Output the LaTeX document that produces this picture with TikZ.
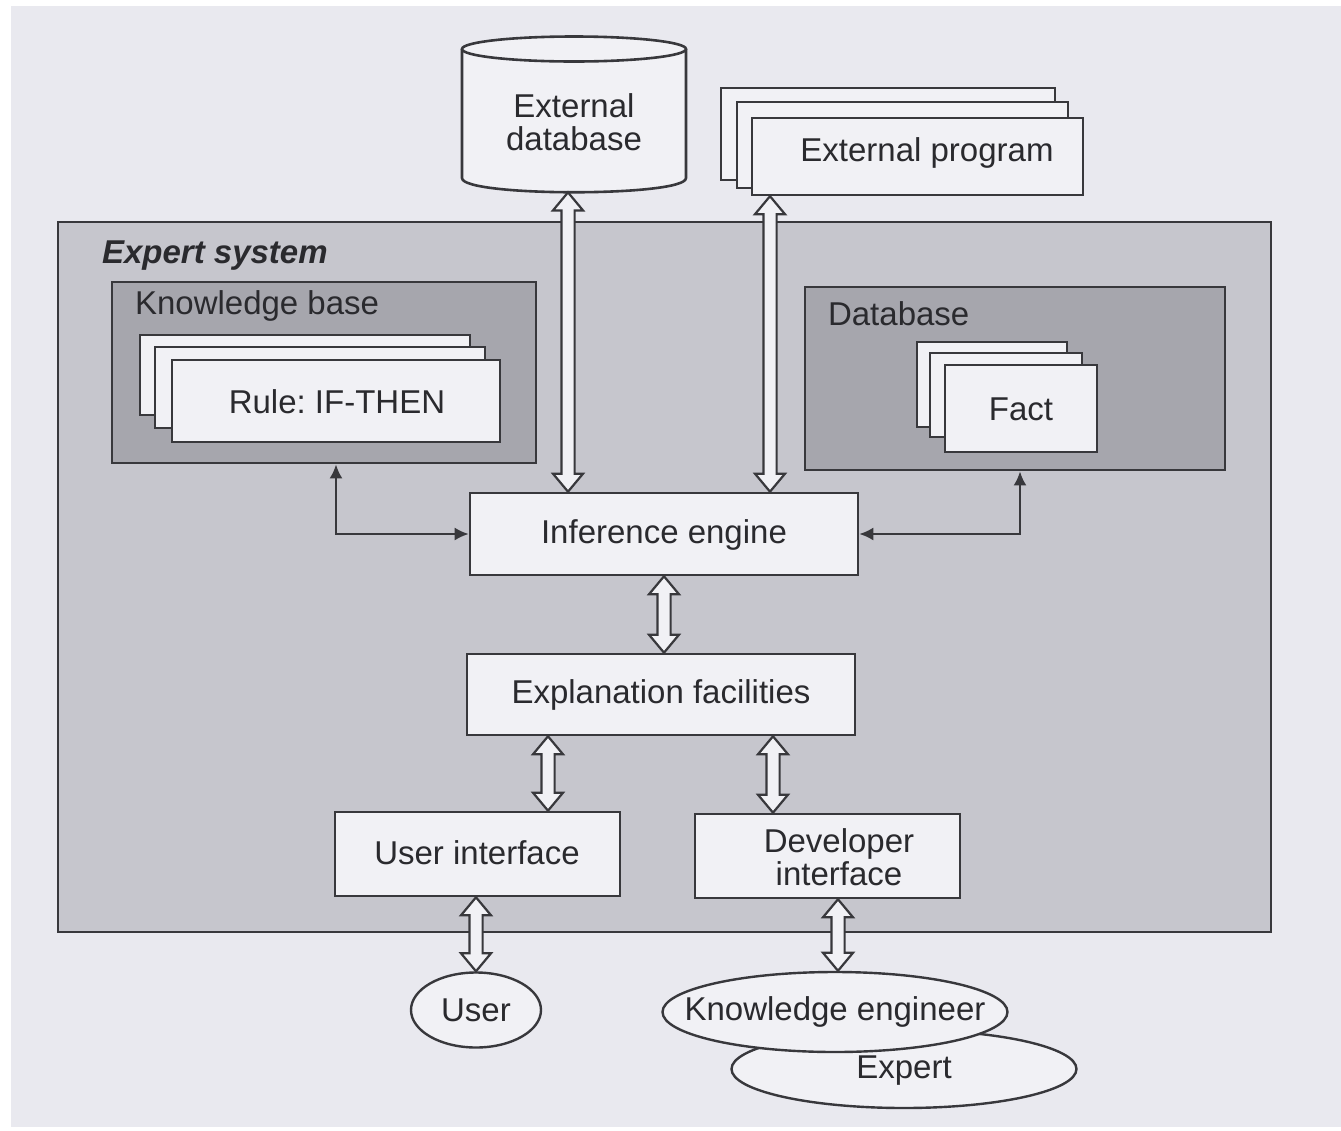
\documentclass[tikz,border=0pt]{standalone}
\usepackage{fontspec}
\setmainfont{Liberation Sans}
\usetikzlibrary{arrows.meta,fit,calc,shapes.geometric}
\definecolor{page}{HTML}{E9E9EF}
\definecolor{shell}{HTML}{C6C6CD}
\definecolor{store}{HTML}{A6A6AD}
\definecolor{paper}{HTML}{F1F1F5}
\definecolor{edge}{HTML}{38383C}
\definecolor{ink}{HTML}{2A2A2E}
\frenchspacing
\begin{document}
\begin{tikzpicture}[x=0.5pt,y=-0.5pt,
  font=\fontsize{16.5}{16.5}\selectfont, text=ink,
  panel/.style={draw=edge, line width=1.4pt, inner sep=0pt},
  sheet/.style={draw=edge, fill=paper, line width=1.2pt, inner sep=0pt},
  boxnode/.style={draw=edge, fill=paper, line width=1.3pt, inner sep=0pt, align=center},
  actor/.style={draw=edge, fill=paper, line width=1.2pt, ellipse, inner sep=0pt},
  hollow/.style={draw=edge, fill=paper, line width=1.1pt,
    to path={let \p1=(\tikztostart), \p2=(\tikztotarget) in
      (\x1,\y1) -- (\x1+7.5pt,\y1-9pt) -- (\x1+3.3pt,\y1-9pt) -- (\x1+3.3pt,\y2+9pt)
      -- (\x1+7.5pt,\y2+9pt) -- (\x1,\y2) -- (\x1-7.5pt,\y2+9pt) -- (\x1-3.3pt,\y2+9pt)
      -- (\x1-3.3pt,\y1-9pt) -- (\x1-7.5pt,\y1-9pt) -- cycle}},
  link/.style={draw=edge, line width=1.1pt, {Latex[length=7pt,width=6.5pt]}-{Latex[length=7pt,width=6.5pt]}}
]
% page
\useasboundingbox (0,0) rectangle (1341,1131);
\fill[white] (0,0) rectangle (1341,1131);
\fill[page] (11,6) rectangle (1341,1127);

% external database (cylinder)
\draw[edge, fill=paper, line width=1.3pt] (462,49) -- (462,178)
  .. controls (462,197) and (686,197) .. (686,178) -- (686,49);
\draw[edge, fill=paper, line width=1.3pt] (574,49) ellipse [x radius=112, y radius=12.5];
\node[inner sep=0pt, fit={(462,37) (686,192)}] (cyl) {};
\node[align=center] (cyltext) at (574,122) {External\\database};

% external program (stack of sheets)
\node[sheet, fit={(721,88) (1055,180)}] (prog3) {};
\node[sheet, fit={(737,102) (1068,188)}] (prog2) {};
\node[sheet, fit={(752,118) (1083,195)}] (prog) {};
\node (progtext) at (927,153) {External program};

% expert system shell
\node[panel, fill=shell, fit={(58,222) (1271,932)}] (es) {};
\node[anchor=west, font=\fontsize{16.5}{16.5}\selectfont\bfseries\itshape] (eslabel) at (95,256) {Expert system};

% knowledge base
\node[panel, fill=store, fit={(112,282) (536,463)}] (kb) {};
\node[anchor=west] (kblabel) at (128,306) {Knowledge base};
\node[sheet, fit={(140,335) (470,415)}] (rule3) {};
\node[sheet, fit={(155,347) (485,428)}] (rule2) {};
\node[sheet, fit={(172,360) (500,442)}] (rule) {};
\node (ruletext) at (337,402) {Rule: IF-THEN};

% database
\node[panel, fill=store, fit={(805,287) (1225,470)}] (db) {};
\node[anchor=west] (dblabel) at (821,314) {Database};
\node[sheet, fit={(917,342) (1067,427)}] (fact3) {};
\node[sheet, fit={(930,353) (1082,437)}] (fact2) {};
\node[sheet, fit={(945,365) (1097,452)}] (fact) {};
\node (facttext) at (1021,409) {Fact};

% processing components
\node[boxnode, fit={(470,493) (858,575)}] (inf) {};
\node (inftext) at (664,535) {Inference engine};
\node[boxnode, fit={(467,654) (855,735)}] (expl) {};
\node (expltext) at (661,695) {Explanation facilities};
\node[boxnode, fit={(335,812) (620,896)}] (ui) {};
\node (uitext) at (477,853) {User interface};
\node[boxnode, fit={(695,814) (960,898)}] (dev) {};
\node[align=center] (devtext) at (839,857) {Developer\\interface};

% people
\node[actor, minimum width=65pt, minimum height=37.5pt] (user) at (476,1010) {};
\node (usertext) at (476,1010) {User};
\node[actor, minimum width=172.5pt, minimum height=39pt] (expert) at (904,1069) {};
\node (experttext) at (904,1071) {Expert};
\node[actor, minimum width=172.5pt, minimum height=40pt] (ke) at (835,1012) {};
\node (ketext) at (835,1012) {Knowledge engineer};

% x positions of the vertical connectors
\coordinate (xdb) at (568,0);
\coordinate (xprog) at (770,0);
\coordinate (xmid) at (664,0);
\coordinate (xui) at (548,0);
\coordinate (xdev) at (773,0);
\coordinate (xuser) at (476,0);
\coordinate (xke) at (838,0);
\coordinate (xkb) at (336,0);
\coordinate (xfact) at (1020,0);

% two-way data flows
\draw[hollow] (cyl.south -| xdb) to (inf.north -| xdb);
\draw[hollow] (prog.south -| xprog) to (inf.north -| xprog);
\draw[hollow] (inf.south -| xmid) to (expl.north -| xmid);
\draw[hollow] (expl.south -| xui) to (ui.north -| xui);
\draw[hollow] (expl.south -| xdev) to (dev.north -| xdev);
\draw[hollow] (ui.south -| xuser) to (user.north -| xuser);
\draw[hollow] (dev.south -| xke) to (ke.north -| xke);

% knowledge and fact access
\draw[link] (kb.south -| xkb) |- (inf.west);
\draw[link] (inf.east) -| (db.south -| xfact);
\end{tikzpicture}
\end{document}
